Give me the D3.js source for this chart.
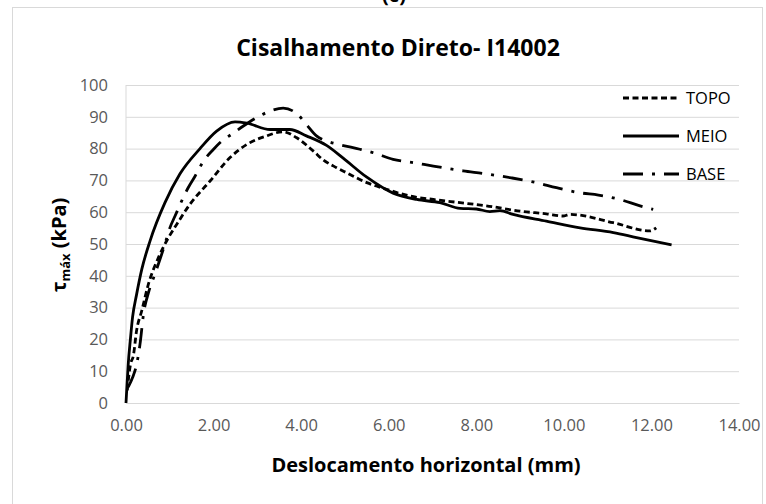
<!DOCTYPE html>
<html>
<head>
<meta charset="utf-8">
<script src="https://cdn.jsdelivr.net/npm/d3@7/dist/d3.min.js"></script>
<style>
  html, body { margin: 0; padding: 0; background: #fff; }
  svg { display: block; }
  text { font-family: "Open Sans", "Liberation Sans", sans-serif; }
</style>
</head>
<body>
<svg id="chart" width="766" height="504"></svg>
<script>
// ---- data ----
const xTicks = [0, 2, 4, 6, 8, 10, 12, 14];
const yTicks = [0, 10, 20, 30, 40, 50, 60, 70, 80, 90, 100];
const seriesNames = ["TOPO", "MEIO", "BASE"];

const topo = [[0.03,4],[0.06,8],[0.1,12],[0.17,15],[0.24,22.6],[0.36,29],[0.51,37.3],[0.74,45.7],[0.97,52],[1.16,56.2],[1.46,62.5],[1.92,69.8],[2.37,77.1],[2.76,81.3],[3.21,84],[3.59,85.3],[3.9,83.4],[4.28,79.2],[4.5,76.5],[4.81,74],[5.04,72.4],[5.5,69.3],[5.95,67.2],[6.48,65.1],[7.02,64],[7.63,63],[8.23,62],[9.07,60.2],[9.6,59.5],[9.98,58.8],[10.14,59.3],[11.13,56.7],[11.96,54.1],[12.11,55.1]];

const meio = [[0,0],[0.02,5],[0.05,12],[0.1,20],[0.15,27],[0.24,34],[0.36,42],[0.55,51],[0.89,63],[1.23,72],[1.69,80],[2.07,85.5],[2.49,88.4],[2.76,88],[3.29,86],[3.74,86],[4.12,84],[4.58,81],[4.96,77],[5.5,71],[6.1,66],[6.64,64],[7.17,63],[7.63,61.2],[8.0,61],[8.31,60.2],[8.54,60.5],[8.84,59.3],[9.6,57.2],[10.37,55.1],[11.13,53.6],[11.66,52],[12.46,49.7]];

const base = [[0.05,5],[0.15,8],[0.24,12],[0.32,18.5],[0.4,28],[0.52,35],[0.66,40.5],[0.89,50],[1.0,55],[1.12,58.8],[1.27,63.5],[1.42,67.7],[1.58,71.4],[1.77,76.1],[2.0,79.8],[2.15,81.9],[2.41,84.5],[2.68,87.1],[2.98,89.7],[3.29,91.8],[3.59,92.7],[3.9,91],[4.12,87.6],[4.35,84],[4.58,82.4],[4.89,81.2],[5.34,79.8],[5.65,78.7],[6.1,76.6],[6.56,75.6],[7.02,74.5],[7.7,73],[8.2,72.1],[8.8,70.8],[9.37,69.3],[9.83,67.7],[10.37,66.1],[10.79,65.4],[11.28,64],[11.74,62],[12.04,60.9]];

// ---- layout ----
const svg = d3.select("#chart");
const plot = { left: 126, right: 739, top: 85, bottom: 403 };

const x = d3.scaleLinear().domain([0, 14]).range([plot.left, plot.right]);
const y = d3.scaleLinear().domain([0, 100]).range([plot.bottom, plot.top]);

// chart border
svg.append("rect")
  .attr("x", 12.5).attr("y", 7.5)
  .attr("width", 750).attr("height", 500)
  .attr("fill", "none").attr("stroke", "#d9d9d9").attr("stroke-width", 1);

// "(c)" label partly cut at top, as in the reference
svg.append("text")
  .attr("x", 394).attr("y", 2)
  .attr("text-anchor", "middle")
  .attr("font-size", 20).attr("font-weight", "bold")
  .text("(c)");

// title
svg.append("text")
  .attr("x", 398).attr("y", 56)
  .attr("text-anchor", "middle")
  .attr("font-size", 23).attr("font-weight", "bold")
  .attr("fill", "#000")
  .text("Cisalhamento Direto- I14002");

// gridlines + y tick labels
const yAxis = d3.axisLeft(y).tickValues(yTicks).tickSize(-(plot.right - plot.left)).tickPadding(18).tickFormat(d3.format("d"));
const gy = svg.append("g").attr("transform", `translate(${plot.left},0)`).call(yAxis);
gy.select(".domain").remove();
gy.selectAll(".tick line").attr("stroke", "#d9d9d9").attr("stroke-width", 1);
gy.selectAll(".tick text").attr("fill", "#595959").attr("font-size", 16.5)
  .attr("font-family", "'Open Sans', sans-serif");

// left axis line
svg.append("line")
  .attr("x1", plot.left).attr("x2", plot.left)
  .attr("y1", plot.top).attr("y2", plot.bottom)
  .attr("stroke", "#d9d9d9").attr("stroke-width", 1);

// x axis
const gx = svg.append("g").attr("transform", `translate(0,${plot.bottom})`)
  .call(d3.axisBottom(x).tickValues(xTicks).tickSize(0).tickPadding(16).tickFormat(d3.format(".2f")));
gx.select(".domain").attr("stroke", "#d9d9d9");
gx.selectAll(".tick text").attr("fill", "#595959").attr("font-size", 16.5)
  .attr("font-family", "'Open Sans', sans-serif");

// axis titles
svg.append("text")
  .attr("x", 426).attr("y", 472)
  .attr("text-anchor", "middle")
  .attr("font-size", 20).attr("font-weight", "bold")
  .text("Deslocamento horizontal (mm)");

const yt = svg.append("text")
  .attr("transform", "translate(66,245) rotate(-90)")
  .attr("text-anchor", "middle")
  .attr("font-size", 20).attr("font-weight", "bold");
yt.append("tspan").text("τ");
yt.append("tspan").attr("font-size", 13).attr("dy", 4).text("máx");
yt.append("tspan").attr("dy", -4).text(" (kPa)");

// lines
const line = d3.line().x(d => x(d[0])).y(d => y(d[1])).curve(d3.curveMonotoneX);
const styles = {
  TOPO: { data: topo, dash: "6,3.5" },
  MEIO: { data: meio, dash: null },
  BASE: { data: base, dash: "20,9,3,9" }
};
seriesNames.forEach(name => {
  const s = styles[name];
  svg.append("path")
    .datum(s.data)
    .attr("d", line)
    .attr("fill", "none")
    .attr("stroke", "#000")
    .attr("stroke-width", 2.8)
    .attr("stroke-dasharray", s.dash);
});

// legend
const legendY = [98, 136, 174];
seriesNames.forEach((name, i) => {
  const s = styles[name];
  const g = svg.append("g").attr("transform", `translate(0,${legendY[i]})`);
  g.append("line").attr("x1", 623).attr("x2", 679).attr("y1", 0).attr("y2", 0)
    .attr("stroke", "#000").attr("stroke-width", 2.8)
    .attr("stroke-dasharray", s.dash);
  g.append("text").attr("x", 686).attr("y", 0).attr("dy", "0.35em")
    .attr("font-size", 16.5).attr("fill", "#000").text(name);
});
</script>
</body>
</html>
